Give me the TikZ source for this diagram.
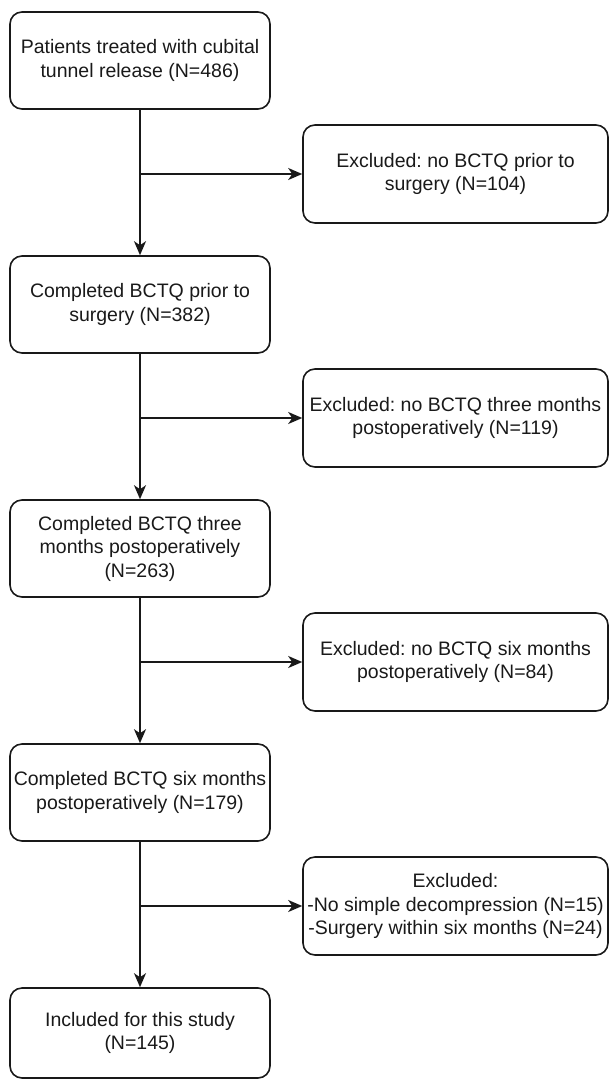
\documentclass[tikz,border=0pt]{standalone}
\usepackage{fontspec}
\setmainfont{Liberation Sans}
\usetikzlibrary{arrows.meta}
\frenchspacing
\begin{document}
\begin{tikzpicture}[x=1pt,y=-1pt,
  box/.style={draw=black!90, line width=1.6pt, rounded corners=12pt, align=center,
    font=\fontsize{19.5}{23.5}\selectfont, text=black!90, inner sep=0pt},
  lbox/.style={box, minimum width=260pt, minimum height=97pt},
  rbox/.style={box, minimum width=305pt, minimum height=98pt},
  arr/.style={line width=1.6pt, draw=black!90, -{Stealth[length=14pt,width=12pt,inset=4pt]}},
  ln/.style={line width=1.6pt, draw=black!90}]
\useasboundingbox (0,0) rectangle (610,1080);
\node[lbox] (b1) at (140,60.5) {Patients treated with cubital\\tunnel release (N=486)};
\node[lbox] (b2) at (140,304.5) {Completed BCTQ prior to\\surgery (N=382)};
\node[lbox] (b3) at (140,548.5) {Completed BCTQ three\\months postoperatively\\(N=263)};
\node[lbox] (b4) at (140,792.5) {Completed BCTQ six months\\postoperatively (N=179)};
\node[lbox, minimum height=90pt] (b5) at (140,1033) {Included for this study\\(N=145)};
\node[rbox] (r1) at (455.5,174) {Excluded: no BCTQ prior to\\surgery (N=104)};
\node[rbox] (r2) at (455.5,418) {Excluded: no BCTQ three months\\postoperatively (N=119)};
\node[rbox] (r3) at (455.5,662) {Excluded: no BCTQ six months\\postoperatively (N=84)};
\node[rbox] (r4) at (455.5,906) {Excluded:\\-No simple decompression (N=15)\\-Surgery within six months (N=24)};
\coordinate (j1) at (b1.south |- r1.west);
\coordinate (j2) at (b2.south |- r2.west);
\coordinate (j3) at (b3.south |- r3.west);
\coordinate (j4) at (b4.south |- r4.west);
\draw[arr] (b1.south) -- (b2.north);
\draw[arr] (b2.south) -- (b3.north);
\draw[arr] (b3.south) -- (b4.north);
\draw[arr] (b4.south) -- (b5.north);
\draw[arr] (j1) -- (r1.west);
\draw[arr] (j2) -- (r2.west);
\draw[arr] (j3) -- (r3.west);
\draw[arr] (j4) -- (r4.west);
\end{tikzpicture}
\end{document}
